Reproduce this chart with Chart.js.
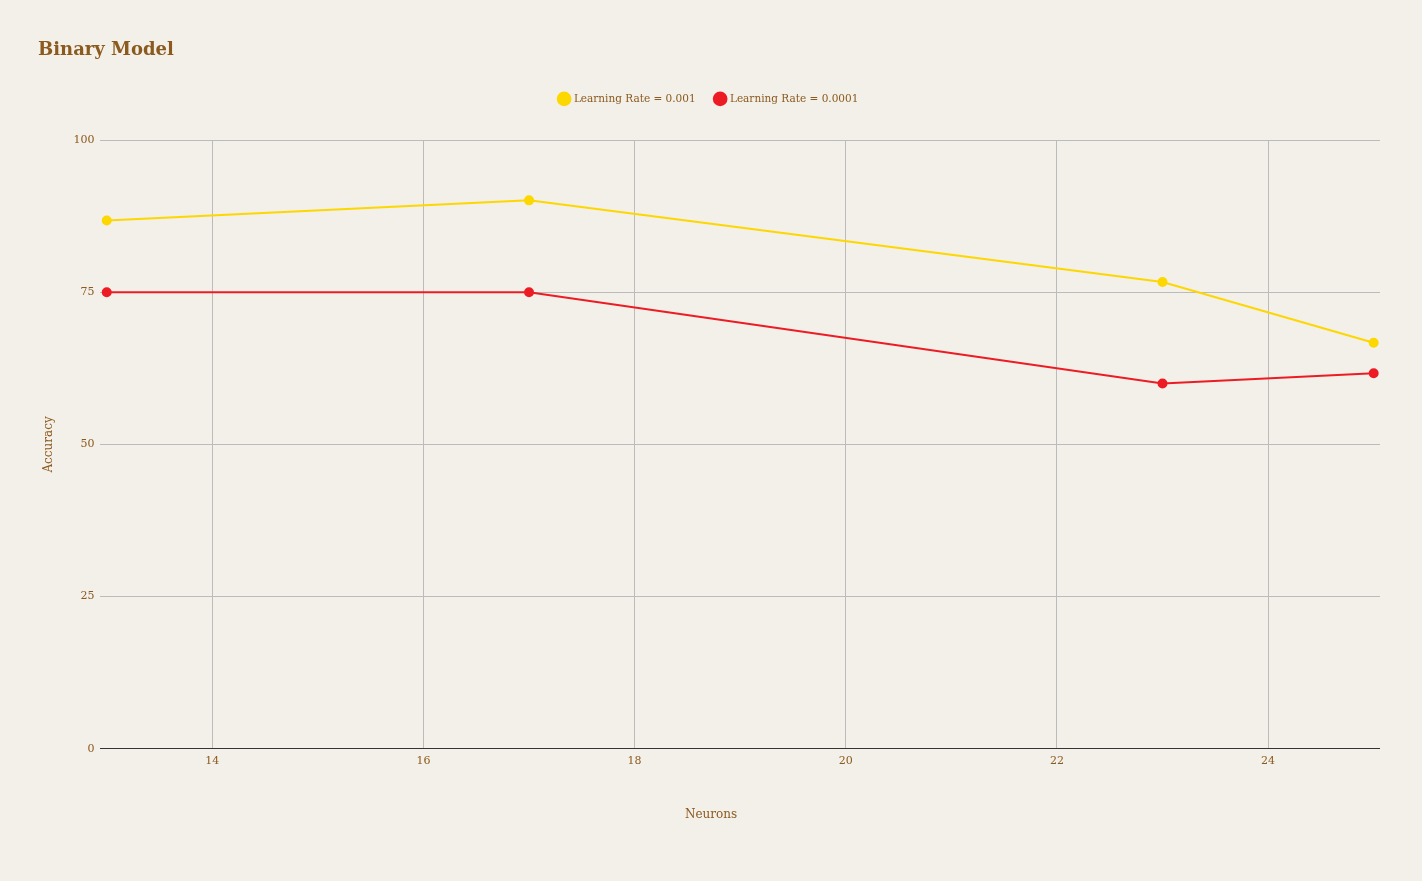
<!DOCTYPE html>
<html>
<head>
<meta charset="utf-8">
<script src="https://cdn.jsdelivr.net/npm/chart.js@4"></script>
<style>
  html, body { margin: 0; padding: 0; background: #f3efe9; }
  #wrap { width: 1422px; height: 881px; }
</style>
</head>
<body>
<div id="wrap"><canvas id="myChart"></canvas></div>
<script>
// values
var neurons = [13, 17, 23, 25];
var lr001 = [86.8, 90.1, 76.7, 66.7];
var lr0001 = [75.0, 75.0, 60.0, 61.7];
var xTicks = [14, 16, 18, 20, 22, 24];
var yTicks = [0, 25, 50, 75, 100];

var brown = '#8b5a1e';
var serif = 'Georgia, "DejaVu Serif", serif';

function points(ys) {
	return neurons.map(function(n, i) { return {x: n, y: ys[i]}; });
}

// extra room under the legend
var legendGap = {
	id: 'legendGap',
	beforeInit: function(chart) {
		var fit = chart.legend.fit;
		chart.legend.fit = function() {
			fit.bind(chart.legend)();
			this.height += 26;
		};
	}
};

// x axis title is centred on the whole canvas, not the plot
var xTitle = {
	id: 'xTitle',
	afterDraw: function(chart) {
		var c = chart.ctx;
		c.save();
		c.fillStyle = brown;
		c.font = '12px ' + serif;
		c.textAlign = 'center';
		c.textBaseline = 'middle';
		c.fillText('Neurons', chart.width / 2, chart.chartArea.bottom + 66);
		c.restore();
	}
};

var ctx = document.getElementById('myChart');

new Chart(ctx, {
	type: 'line',
	data: {
		datasets: [
			{
				label: 'Learning Rate = 0.001',
				data: points(lr001),
				borderColor: '#fdd700',
				backgroundColor: '#fdd700',
				borderWidth: 2,
				pointRadius: 4,
				pointHoverRadius: 5
			},
			{
				label: 'Learning Rate = 0.0001',
				data: points(lr0001),
				borderColor: '#ed1c24',
				backgroundColor: '#ed1c24',
				borderWidth: 2,
				pointRadius: 4,
				pointHoverRadius: 5
			}
		]
	},
	plugins: [legendGap, xTitle],
	options: {
		responsive: true,
		maintainAspectRatio: false,
		animation: false,
		layout: { padding: { left: 38, right: 42, top: 28, bottom: 107 } },
		plugins: {
			title: {
				display: true,
				text: 'Binary Model',
				align: 'start',
				color: brown,
				font: { family: serif, size: 18, weight: 'bold' },
				padding: { top: 12, bottom: 12 }
			},
			legend: {
				labels: {
					usePointStyle: true,
					pointStyle: 'circle',
					boxWidth: 9,
					boxHeight: 9,
					color: brown,
					font: { family: serif, size: 10.5 },
					padding: 20
				}
			},
			tooltip: { enabled: false }
		},
		scales: {
			x: {
				type: 'linear',
				min: 12.94,
				max: 25.06,
				afterBuildTicks: function(scale) {
					scale.ticks = xTicks.map(function(v) { return {value: v}; });
				},
				grid: { color: '#bbbbbb', drawTicks: false },
				border: { display: false },
				ticks: { color: brown, font: { family: serif, size: 11 }, padding: 6 }
			},
			y: {
				min: 0,
				max: 100,
				afterBuildTicks: function(scale) {
					scale.ticks = yTicks.map(function(v) { return {value: v}; });
				},
				grid: {
					drawTicks: false,
					color: function(c) { return c.tick && c.tick.value === 0 ? '#333333' : '#bbbbbb'; }
				},
				border: { display: false },
				ticks: { color: brown, font: { family: serif, size: 11 }, padding: 6 },
				title: {
					display: true,
					text: 'Accuracy',
					color: brown,
					font: { family: serif, size: 12 },
					padding: { bottom: 11 }
				}
			}
		}
	}
});
</script>
</body>
</html>
